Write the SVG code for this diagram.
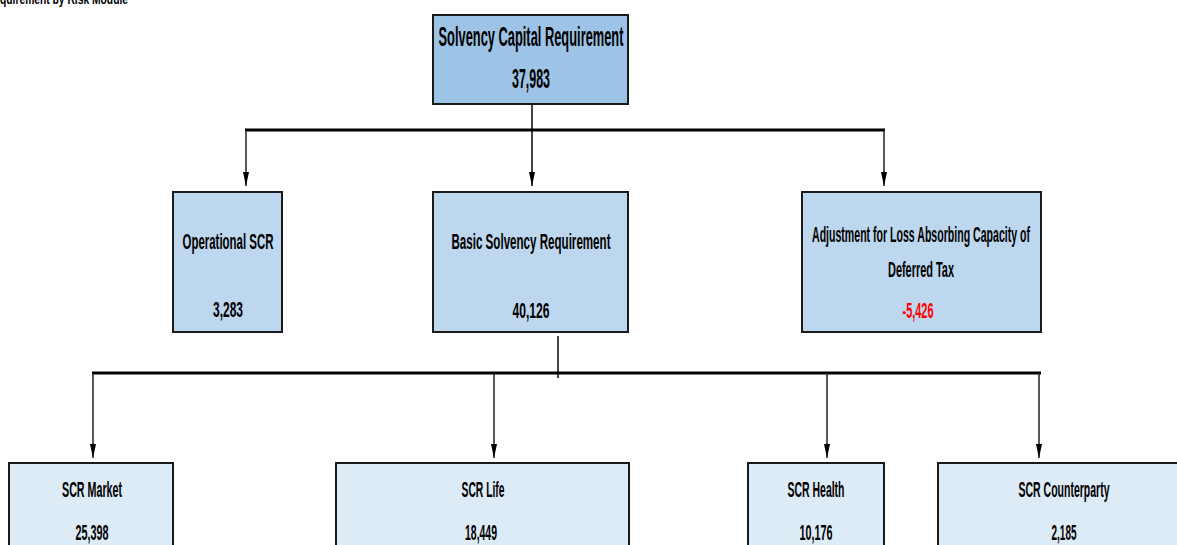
<svg xmlns="http://www.w3.org/2000/svg" width="1177" height="545" viewBox="0 0 1177 545">
<style>
.t{font-family:"Liberation Sans",Arial,sans-serif;font-weight:bold;fill:#000;text-anchor:middle}
.lbl{font-size:22px}
.big{font-size:27px}
.box{stroke:#1a1a1a;stroke-width:2}
.lv0{fill:#9dc3e6}
.lv1{fill:#bdd7ee}
.lv2{fill:#ddebf7}
.bus{stroke:#000;stroke-width:3;fill:none}
.drop{stroke:#222;stroke-width:1.5;fill:none}
.stem{stroke:#444;stroke-width:2;fill:none}
</style>
<defs>
<marker id="arr" viewBox="0 0 14 6" refX="14" refY="3" markerWidth="14" markerHeight="6" markerUnits="userSpaceOnUse" orient="auto">
<path d="M0,0 L14,3 L0,6 z" fill="#000"/>
</marker>
</defs>
<rect width="1177" height="545" fill="#fff"/>
<text class="t" x="0" y="4" style="font-size:14px;text-anchor:start" textLength="128" lengthAdjust="spacingAndGlyphs">quirement by Risk Module</text>

<g id="connectors">
<line class="stem" x1="532" y1="104" x2="532" y2="186" marker-end="url(#arr)"/>
<line class="bus" x1="245" y1="130" x2="885" y2="130"/>
<line class="drop" x1="246" y1="130" x2="246" y2="186" marker-end="url(#arr)"/>
<line class="drop" x1="884" y1="130" x2="884" y2="186" marker-end="url(#arr)"/>
<line class="stem" x1="558" y1="336" x2="558" y2="378"/>
<line class="bus" x1="92" y1="373" x2="1041" y2="373"/>
<line class="drop" x1="93" y1="373" x2="93" y2="458" marker-end="url(#arr)"/>
<line class="drop" x1="494" y1="373" x2="494" y2="458" marker-end="url(#arr)"/>
<line class="drop" x1="827" y1="373" x2="827" y2="458" marker-end="url(#arr)"/>
<line class="drop" x1="1039" y1="373" x2="1039" y2="458" marker-end="url(#arr)"/>
</g>

<g id="scr">
<rect class="box lv0" x="433" y="15" width="195" height="89"/>
<text class="t big" x="531" y="46" textLength="185" lengthAdjust="spacingAndGlyphs">Solvency Capital Requirement</text>
<text class="t big" x="531" y="88" textLength="38" lengthAdjust="spacingAndGlyphs">37,983</text>
</g>

<g id="operational">
<rect class="box lv1" x="173" y="192" width="109" height="140"/>
<text class="t lbl" x="228" y="249" textLength="91" lengthAdjust="spacingAndGlyphs">Operational SCR</text>
<text class="t lbl" x="228" y="317" textLength="30" lengthAdjust="spacingAndGlyphs">3,283</text>
</g>

<g id="basic">
<rect class="box lv1" x="433" y="192" width="195" height="140"/>
<text class="t lbl" x="531" y="249" textLength="159" lengthAdjust="spacingAndGlyphs">Basic Solvency Requirement</text>
<text class="t lbl" x="531" y="318" textLength="37" lengthAdjust="spacingAndGlyphs">40,126</text>
</g>

<g id="adjustment">
<rect class="box lv1" x="802" y="192" width="239" height="140"/>
<text class="t lbl" x="921" y="242" textLength="218" lengthAdjust="spacingAndGlyphs">Adjustment for Loss Absorbing Capacity of</text>
<text class="t lbl" x="921" y="277" textLength="66" lengthAdjust="spacingAndGlyphs">Deferred Tax</text>
<text class="t lbl" x="918" y="318" textLength="31" lengthAdjust="spacingAndGlyphs" style="fill:#ff0000">-5,426</text>
</g>

<g id="market">
<rect class="box lv2" x="9" y="463" width="164" height="100"/>
<text class="t lbl" x="92" y="497" textLength="60" lengthAdjust="spacingAndGlyphs">SCR Market</text>
<text class="t lbl" x="92" y="540" textLength="33" lengthAdjust="spacingAndGlyphs">25,398</text>
</g>

<g id="life">
<rect class="box lv2" x="336" y="463" width="293" height="100"/>
<text class="t lbl" x="483" y="497" textLength="43" lengthAdjust="spacingAndGlyphs">SCR Life</text>
<text class="t lbl" x="481" y="540" textLength="32" lengthAdjust="spacingAndGlyphs">18,449</text>
</g>

<g id="health">
<rect class="box lv2" x="748" y="463" width="136" height="100"/>
<text class="t lbl" x="816" y="497" textLength="57" lengthAdjust="spacingAndGlyphs">SCR Health</text>
<text class="t lbl" x="816" y="540" textLength="33" lengthAdjust="spacingAndGlyphs">10,176</text>
</g>

<g id="counterparty">
<rect class="box lv2" x="938" y="463" width="250" height="100"/>
<text class="t lbl" x="1064" y="497" textLength="91" lengthAdjust="spacingAndGlyphs">SCR Counterparty</text>
<text class="t lbl" x="1064" y="540" textLength="25" lengthAdjust="spacingAndGlyphs">2,185</text>
</g>
</svg>
